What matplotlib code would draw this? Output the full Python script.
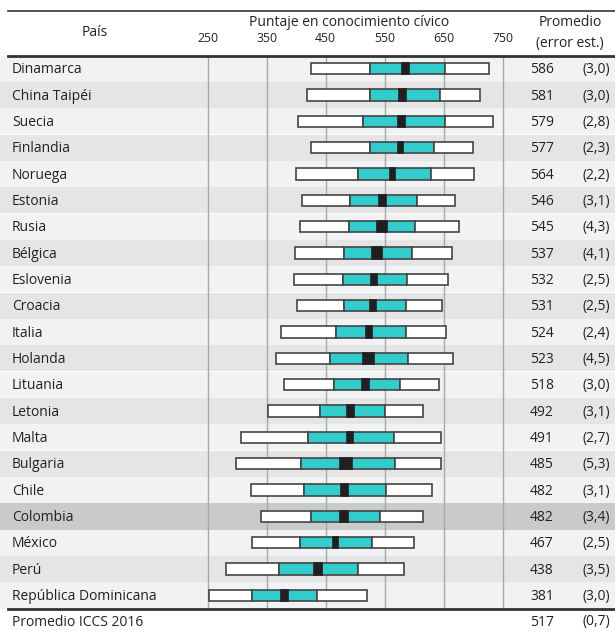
import matplotlib.pyplot as plt

# Datos
paises = ['Dinamarca', 'China Taipéi', 'Suecia', 'Finlandia', 'Noruega', 'Estonia',
          'Rusia', 'Bélgica', 'Eslovenia', 'Croacia', 'Italia', 'Holanda', 'Lituania',
          'Letonia', 'Malta', 'Bulgaria', 'Chile', 'Colombia', 'México', 'Perú',
          'República Dominicana']
promedio = [586, 581, 579, 577, 564, 546, 545, 537, 532, 531, 524, 523, 518,
            492, 491, 485, 482, 482, 467, 438, 381]
error_est = [3.0, 3.0, 2.8, 2.3, 2.2, 3.1, 4.3, 4.1, 2.5, 2.5, 2.4, 4.5, 3.0,
             3.1, 2.7, 5.3, 3.1, 3.4, 2.5, 3.5, 3.0]
p5 = [425, 418, 404, 425, 400, 410, 406, 398, 397, 401, 374, 366, 379,
      353, 307, 298, 324, 340, 326, 282, 252]
p25 = [526, 526, 514, 526, 505, 492, 490, 482, 479, 482, 468, 458, 464,
       440, 421, 408, 414, 425, 407, 372, 326]
p75 = [652, 644, 653, 634, 628, 605, 601, 596, 588, 586, 586, 590, 577,
       550, 566, 567, 552, 542, 529, 505, 436]
p95 = [727, 712, 734, 700, 702, 670, 676, 664, 657, 647, 655, 666, 642,
       616, 645, 645, 630, 616, 600, 583, 520]
ticks = [250, 350, 450, 550, 650, 750]
promedio_iccs = 517
error_iccs = 0.7
destacado = 'Colombia'

plt.rcParams['font.family'] = ['Open Sans', 'DejaVu Sans']

W, H = 615, 633
fig = plt.figure(figsize=(W / 100, H / 100), dpi=100)

# zona de filas (en píxeles)
y_top, y_bot = 55.5, 608.5
n = len(paises)
bottom = (H - y_bot) / H
height = (y_bot - y_top) / H

fs = 10
col_txt = '#222222'

# eje de fondo para las franjas y los textos de la tabla
bg = fig.add_axes([0, bottom, 1, height])
bg.set_xlim(0, W)
bg.set_ylim(n, 0)
bg.axis('off')

for i, p in enumerate(paises):
    if p == destacado:
        c = '#c9cacc'
    elif i % 2 == 0:
        c = '#f1f2f4'
    else:
        c = '#e5e5e6'
    bg.axhspan(i, i + 1, color=c, lw=0)
    bg.text(12, i + 0.55, p, va='center', ha='left', fontsize=fs, color=col_txt)
    bg.text(542, i + 0.55, f'{promedio[i]}', va='center', ha='center',
            fontsize=fs, color=col_txt)
    bg.text(610, i + 0.55, f'({error_est[i]:.1f})'.replace('.', ','), va='center',
            ha='right', fontsize=fs, color=col_txt)

# eje del gráfico de percentiles
ax = fig.add_axes([207.5 / W, bottom, 295 / W, height])
ax.set_xlim(ticks[0], ticks[-1])
ax.set_ylim(n - 0.5, -0.5)
ax.patch.set_alpha(0)
ax.axis('off')
for t in ticks:
    ax.axvline(t, color='#a8a8a8', lw=1, zorder=1, clip_on=False)

filas = range(n)
alto = 0.43
borde = dict(edgecolor='#444444', linewidth=1.2, height=alto, zorder=3)
ax.barh(filas, [b - a for a, b in zip(p5, p25)], left=p5, color='white', **borde)
ax.barh(filas, [b - a for a, b in zip(p25, p75)], left=p25, color='#33cccc', **borde)
ax.barh(filas, [b - a for a, b in zip(p75, p95)], left=p75, color='white', **borde)
ic = [1.96 * e for e in error_est]
ax.barh(filas, [2 * d for d in ic], left=[m - d for m, d in zip(promedio, ic)],
        color='#231f20', height=alto, edgecolor='#231f20', linewidth=1.2, zorder=4)

# encabezado y líneas de la tabla (coordenadas de figura en píxeles)
def fy(y):
    return 1 - y / H

fig.add_artist(plt.Line2D([8 / W, 1], [fy(11), fy(11)], color='#333333', lw=1.2))
fig.add_artist(plt.Line2D([8 / W, 1], [fy(55.5), fy(55.5)], color='#333333', lw=2))
fig.add_artist(plt.Line2D([8 / W, 1], [fy(608.5), fy(608.5)], color='#333333', lw=2))

fig.text(95 / W, fy(33), 'País', ha='center', va='center', fontsize=fs, color=col_txt)
fig.text(349 / W, fy(22), 'Puntaje en conocimiento cívico', ha='center', va='center',
         fontsize=fs, color=col_txt)
for t in ticks:
    xp = (207.5 + (t - ticks[0]) * 295 / (ticks[-1] - ticks[0])) / W
    fig.text(xp, fy(39), str(t), ha='center', va='center', fontsize=8.8, color=col_txt)
fig.text(570 / W, fy(22), 'Promedio', ha='center', va='center', fontsize=fs, color=col_txt)
fig.text(570 / W, fy(44), '(error est.)', ha='center', va='center', fontsize=fs,
         color=col_txt)

# fila final
fig.text(12 / W, fy(622), 'Promedio ICCS 2016', ha='left', va='center', fontsize=fs,
         color=col_txt)
fig.text(542 / W, fy(622), f'{promedio_iccs}', ha='center', va='center', fontsize=fs,
         color=col_txt)
fig.text(610 / W, fy(622), f'({error_iccs:.1f})'.replace('.', ','), ha='right',
         va='center', fontsize=fs, color=col_txt)

fig.savefig('out.png', dpi=100, facecolor='white')
